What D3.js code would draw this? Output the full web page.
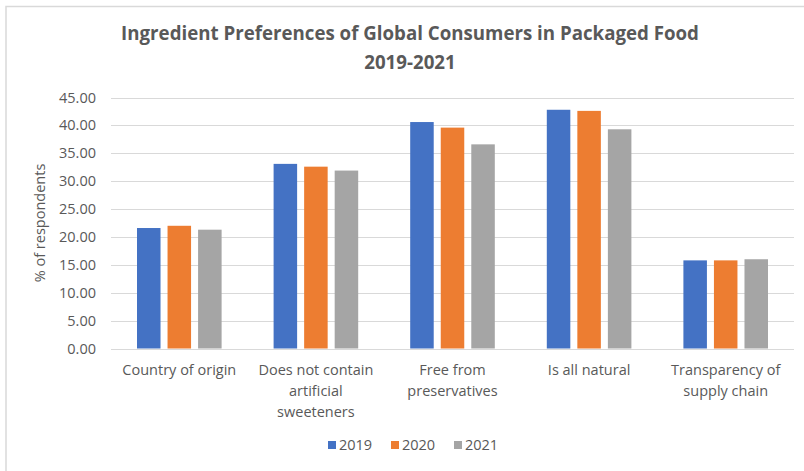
<!DOCTYPE html>
<html lang="en">
<head>
<meta charset="utf-8">
<title>Ingredient Preferences</title>
<script src="https://cdn.jsdelivr.net/npm/d3@7"></script>
<style>
  body { margin: 0; background: #fff; }
  text { font-family: "Open Sans", sans-serif; fill: #595959; }
</style>
</head>
<body>
<script>
// data
var categories = ["Country of origin", "Does not contain\nartificial\nsweeteners", "Free from\npreservatives", "Is all natural", "Transparency of\nsupply chain"];
var years = ["2019", "2020", "2021"];
var v2019 = [21.6, 33.1, 40.6, 42.8, 15.8];
var v2020 = [22.0, 32.6, 39.6, 42.6, 15.8];
var v2021 = [21.3, 31.9, 36.6, 39.3, 16.0];
var yTicks = [0, 5, 10, 15, 20, 25, 30, 35, 40, 45];
var colors = ["#4472C4", "#ED7D31", "#A5A5A5"];

var series = [v2019, v2020, v2021];
var width = 804, height = 471;

var svg = d3.select("body").append("svg")
    .attr("width", width)
    .attr("height", height);

// chart frame
svg.append("rect")
    .attr("x", 6).attr("y", 6.5)
    .attr("width", 820).attr("height", 480)
    .attr("fill", "none")
    .attr("stroke", "#d9d9d9")
    .attr("stroke-width", 1.5);

var x0 = d3.scaleBand()
    .domain(categories)
    .range([111, 794]);

var x1 = d3.scaleBand()
    .domain(years)
    .range([26, x0.bandwidth() - 26])
    .paddingInner(0.23);

var y = d3.scaleLinear()
    .domain([0, 45])
    .range([348.5, 97.5]);

// gridlines
svg.append("g")
  .selectAll("line")
  .data(yTicks)
  .enter()
  .append("line")
    .attr("x1", 111).attr("x2", 794)
    .attr("y1", function(d) { return Math.round(y(d)) + 0.5; })
    .attr("y2", function(d) { return Math.round(y(d)) + 0.5; })
    .attr("stroke", "#d9d9d9")
    .attr("stroke-width", 1);

// y tick labels
svg.append("g")
  .selectAll("text")
  .data(yTicks)
  .enter()
  .append("text")
    .attr("x", 96)
    .attr("y", function(d) { return y(d); })
    .attr("dy", "0.35em")
    .attr("text-anchor", "end")
    .style("font-size", "14.5px")
    .text(function(d) { return d3.format(".2f")(d); });

// bars
var groups = svg.append("g")
  .selectAll("g")
  .data(categories)
  .enter()
  .append("g")
    .attr("transform", function(d) { return "translate(" + x0(d) + ",0)"; });

groups.selectAll("rect")
  .data(function(d, i) { return years.map(function(yr, j) { return {year: yr, value: series[j][i], j: j}; }); })
  .enter()
  .append("rect")
    .attr("x", function(d) { return x1(d.year); })
    .attr("y", function(d) { return y(d.value); })
    .attr("width", x1.bandwidth())
    .attr("height", function(d) { return y(0) - y(d.value); })
    .attr("fill", function(d) { return colors[d.j]; });

// x labels
var xl = svg.append("g")
  .selectAll("text")
  .data(categories)
  .enter()
  .append("text")
    .attr("text-anchor", "middle")
    .attr("transform", function(d) { return "translate(" + (x0(d) + x0.bandwidth() / 2) + ",375)"; })
    .style("font-size", "14.5px");

xl.selectAll("tspan")
  .data(function(d) { return d.split("\n"); })
  .enter()
  .append("tspan")
    .attr("x", 0)
    .attr("y", function(d, i) { return i * 21; })
    .text(function(d) { return d; });

// y axis title
svg.append("text")
    .attr("transform", "translate(45,223) rotate(-90)")
    .attr("text-anchor", "middle")
    .style("font-size", "14.5px")
    .text("% of respondents");

// title
svg.append("text")
    .attr("x", 410).attr("y", 40)
    .attr("text-anchor", "middle")
    .style("font-size", "18.7px")
    .style("font-weight", "bold")
    .text("Ingredient Preferences of Global Consumers in Packaged Food");
svg.append("text")
    .attr("x", 410).attr("y", 69)
    .attr("text-anchor", "middle")
    .style("font-size", "18.7px")
    .style("font-weight", "bold")
    .text("2019-2021");

// legend
var legend = svg.append("g")
  .selectAll("g")
  .data(years)
  .enter()
  .append("g")
    .attr("transform", function(d, i) { return "translate(" + (328 + i * 63) + ",441)"; });

legend.append("rect")
    .attr("width", 8).attr("height", 8)
    .attr("fill", function(d, i) { return colors[i]; });

legend.append("text")
    .attr("x", 11).attr("y", 4)
    .attr("dy", "0.35em")
    .style("font-size", "14.5px")
    .text(function(d) { return d; });
</script>
</body>
</html>
